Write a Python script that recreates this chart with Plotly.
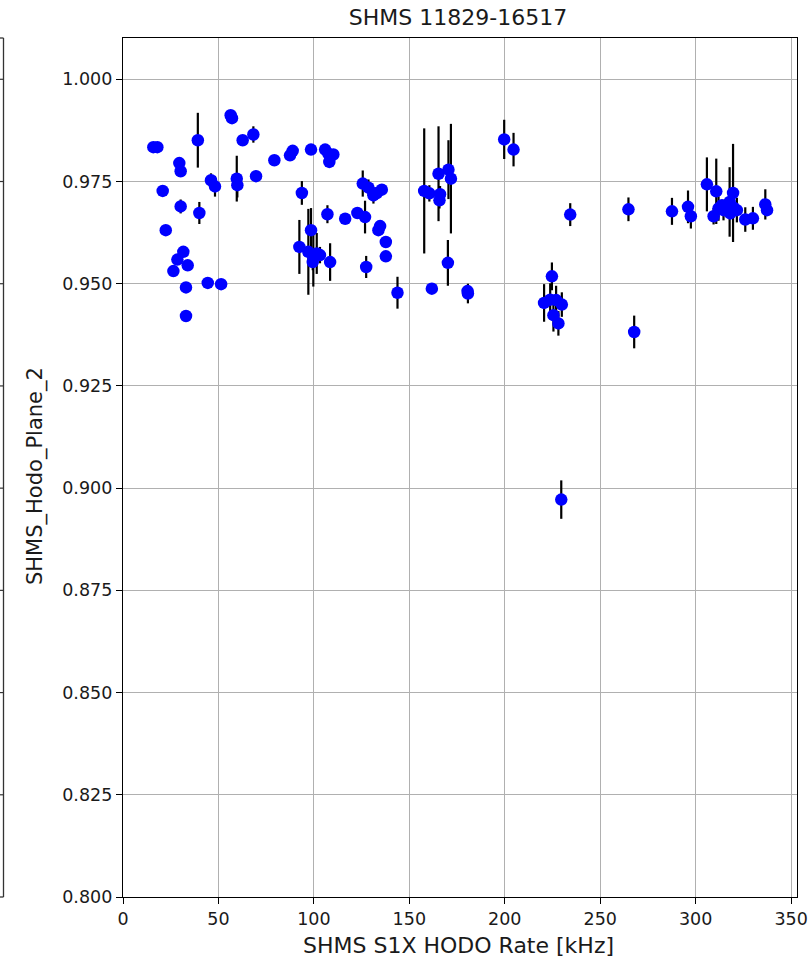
import plotly.graph_objects as go

# ---- data ----
rate = [15.9, 18.0, 39.2, 56.4, 57.1, 62.7, 68.3, 79.3, 29.5, 30.2, 46.1, 48.2, 59.6, 59.9,
        69.7, 20.8, 30.2, 40.0, 22.4, 31.6, 28.5, 33.9, 26.4, 33.0, 44.4, 51.4, 33.0,
        87.5, 88.9, 98.5, 105.9, 107.6, 110.2, 108.1, 93.7, 125.6, 128.6, 131.2, 135.6, 133.0,
        107.1, 116.4, 122.8, 126.8, 134.7, 133.8, 137.7, 137.7, 127.4, 143.8, 98.5, 92.4,
        97.1, 99.7, 99.4, 101.5, 103.2, 108.5,
        157.8, 160.5, 165.3, 166.1, 165.8, 170.5, 171.8, 170.2, 161.8, 180.7, 180.5, 199.7, 204.6,
        234.3, 264.8, 224.7, 220.6, 223.8, 226.9, 229.9, 225.5, 228.1, 267.8, 229.6,
        287.6, 296.0, 297.5, 305.9, 310.8, 309.4, 312.0, 314.6, 313.8, 319.6, 317.8, 319.9,
        321.6, 318.1, 326.0, 330.0, 336.5, 337.4]
eff = [0.9834, 0.9834, 0.9851, 0.9912, 0.9905, 0.9851, 0.9865, 0.9802, 0.9795, 0.9775, 0.9753,
       0.9738, 0.9757, 0.9741, 0.9763, 0.9727, 0.9689, 0.9673, 0.9631, 0.9578, 0.9559, 0.9545,
       0.9531, 0.9491, 0.9502, 0.9499, 0.9421,
       0.9814, 0.9825, 0.9828, 0.9828, 0.9818, 0.9816, 0.9798, 0.9722, 0.9745, 0.9735, 0.9716,
       0.9730, 0.9722, 0.9670, 0.9659, 0.9673, 0.9663, 0.9641, 0.9631, 0.9602, 0.9567, 0.9541,
       0.9478, 0.9631, 0.9590, 0.9578, 0.9566, 0.9553, 0.9574, 0.9570, 0.9553,
       0.9727, 0.9721, 0.9769, 0.9719, 0.9704, 0.9779, 0.9757, 0.9551, 0.9488, 0.9476, 0.9482,
       0.9853, 0.9828,
       0.9669, 0.9682, 0.9518, 0.9453, 0.9461, 0.9460, 0.9449, 0.9423, 0.9403, 0.9382, 0.8972,
       0.9677, 0.9688, 0.9665, 0.9743, 0.9726, 0.9665, 0.9684, 0.9680, 0.9692, 0.9722, 0.9700,
       0.9686, 0.9680, 0.9672, 0.9657, 0.9660, 0.9694, 0.9680]
err = [0.001, 0.001, 0.0067, 0.001, 0.001, 0.001, 0.002, 0.001, 0.001, 0.001, 0.0017,
       0.0025, 0.0056, 0.003, 0.001, 0.001, 0.0017, 0.0027, 0.001, 0.001, 0.001, 0.001,
       0.001, 0.001, 0.001, 0.001, 0.001,
       0.001, 0.001, 0.001, 0.001, 0.001, 0.001, 0.001, 0.0029, 0.0032, 0.002, 0.002,
       0.001, 0.001, 0.0022, 0.001, 0.001, 0.0040, 0.001, 0.001, 0.001, 0.001, 0.0027,
       0.0039, 0.0054, 0.0066, 0.0105, 0.0073, 0.002, 0.005, 0.002, 0.0046,
       0.0153, 0.002, 0.0116, 0.002, 0.002, 0.0072, 0.0134, 0.0056, 0.001, 0.0024, 0.001,
       0.0048, 0.0041,
       0.0028, 0.0029, 0.0034, 0.0046, 0.004, 0.0035, 0.003, 0.004, 0.003, 0.004, 0.0047,
       0.0033, 0.004, 0.003, 0.0066, 0.008, 0.002, 0.003, 0.0025, 0.001, 0.012, 0.0085,
       0.002, 0.003, 0.001, 0.003, 0.0028, 0.0037, 0.001]

x_ticks = [0, 50, 100, 150, 200, 250, 300, 350]
y_ticks = [0.800, 0.825, 0.850, 0.875, 0.900, 0.925, 0.950, 0.975, 1.000]
title_text = "SHMS 11829-16517"
x_title = "SHMS S1X HODO Rate [kHz]"
y_title = "SHMS_Hodo_Plane_2"

FONT = "DejaVu Sans"
TXT = "#1a1a1a"
W, H = 812, 964
L, R, T, B = 123, 15, 38, 67
pw = W - L - R
ph = H - T - B

fig = go.Figure()
fig.add_trace(go.Scatter(
    x=rate, y=eff, mode="markers",
    marker=dict(color="#0000ff", size=12.5, line=dict(width=0)),
    error_y=dict(type="data", array=err, visible=True, color="black", thickness=2.2, width=0),
    showlegend=False, hoverinfo="x+y",
))

axis_common = dict(
    showgrid=True, gridcolor="#b0b0b0", gridwidth=1,
    showline=True, linecolor="black", linewidth=1.3, mirror=True,
    ticks="outside", ticklen=6, tickwidth=1.3, tickcolor="black",
    tickfont=dict(family=FONT, size=17.5, color=TXT),
    zeroline=False, automargin=False,
)
fig.update_xaxes(range=[0, 353.1], tickvals=x_ticks, ticktext=[str(v) for v in x_ticks], **axis_common)
fig.update_yaxes(range=[0.8, 1.0101], tickvals=y_ticks, ticktext=[f"{v:.3f}" for v in y_ticks], **axis_common)

# neighbouring subplot's right spine visible at the left edge
x_sp = (3.5 - L) / pw
x_l = (0 - L) / pw
shapes = [
    dict(type="line", xref="paper", yref="paper", x0=x_sp, x1=x_sp, y0=0, y1=1,
         line=dict(color="#333333", width=1.3)),
    dict(type="line", xref="paper", yref="paper", x0=x_l, x1=x_sp, y0=0, y1=0,
         line=dict(color="#333333", width=1.3)),
    dict(type="line", xref="paper", yref="paper", x0=x_l, x1=x_sp, y0=1, y1=1,
         line=dict(color="#333333", width=1.3)),
]
for v in y_ticks[1:]:
    shapes.append(dict(type="line", xref="paper", yref="y", x0=x_l, x1=x_sp, y0=v, y1=v,
                       line=dict(color="#333333", width=1.2)))

fig.update_layout(
    width=W, height=H, autosize=False,
    margin=dict(l=L, r=R, t=T, b=B, pad=0),
    plot_bgcolor="white", paper_bgcolor="white",
    shapes=shapes,
    font=dict(family=FONT, color=TXT),
    title=dict(text=title_text, x=458 / W, xanchor="center", xref="container",
               y=1 - 17 / H, yanchor="middle", yref="container",
               font=dict(family=FONT, size=22, color=TXT)),
    annotations=[
        dict(text=x_title, xref="paper", yref="paper", x=(458.5 - L) / pw, y=0,
             yshift=-(945 - (H - B)), xanchor="center", yanchor="middle", showarrow=False,
             font=dict(family=FONT, size=22, color=TXT)),
        dict(text=y_title, xref="paper", yref="paper", x=0, xshift=-(L - 35),
             y=1 - (476 - T) / ph, xanchor="center", yanchor="middle",
             textangle=-90, showarrow=False,
             font=dict(family=FONT, size=21, color=TXT)),
    ],
)

fig.write_html("out.html",
               config={"displayModeBar": False},
               post_script="document.body.style.margin='0';document.body.style.overflow='hidden';")
